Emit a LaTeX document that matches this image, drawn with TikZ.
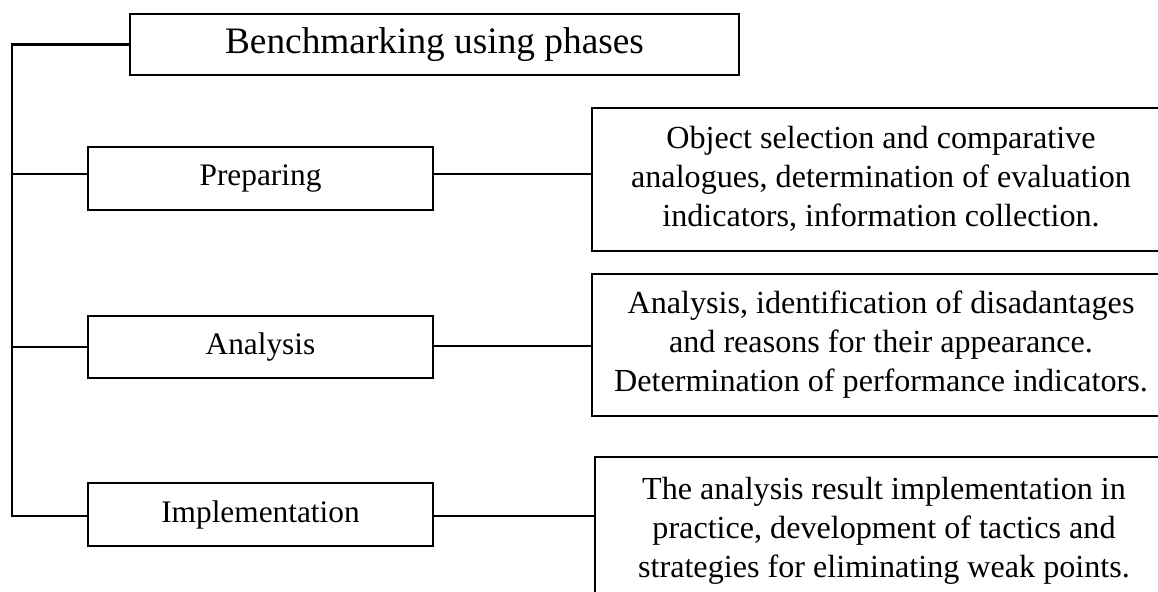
\documentclass[tikz,border=0pt]{standalone}
\usepackage{fontspec}
\setmainfont{Liberation Serif}
\begin{document}
\begin{tikzpicture}[x=0.75pt,y=-0.75pt,
  box/.style={draw,line width=1.6pt,inner sep=0pt},
  phasebox/.style={box,minimum width=258.75pt,minimum height=47pt,font=\fontsize{23.5}{28}\selectfont},
  frame/.style={box,minimum width=450pt},
  desc/.style={align=center,inner sep=0pt,font=\fontsize{24.1}{29.25}\selectfont},
  lnk/.style={line width=1.6pt}]
\useasboundingbox (0,0) rectangle (1158,592);
\clip (0,0) rectangle (1158,592);
% title
\node[box,minimum width=456.75pt,minimum height=45.75pt,font=\fontsize{28}{33}\selectfont] (title) at (434.5,44.5) {Benchmarking using phases};
% phases
\node[phasebox] (prep) at (260.5,178.5) {Preparing};
\node[phasebox,minimum height=46.5pt] (anal) at (260.5,347) {Analysis};
\node[phasebox] (impl) at (260.5,514.5) {Implementation};
% frames of the description boxes (extend past the right edge)
\node[frame,minimum height=107.25pt,anchor=north west] (f1) at (591,107) {};
\node[frame,minimum height=106.5pt,anchor=north west] (f2) at (591,273) {};
\node[frame,minimum height=120pt,anchor=north west] (f3) at (594,456) {};
% description texts
\node[desc] (t1) at (881,179) {Object selection and comparative\\analogues, determination of evaluation\\indicators, information collection.};
\node[desc] (t2) at (881,345) {Analysis, identification of disadantages\\and reasons for their appearance.\\Determination of performance indicators.};
\node[desc] (t3) at (884,531) {The analysis result implementation in\\practice, development of tactics and\\strategies for eliminating weak points.};
% trunk
\coordinate (top) at (12,44.5);
\coordinate (bot) at (12,516);
\draw[lnk] (title.west) -- (top) -- (bot) -- (bot -| impl.west);
\draw[lnk] ([yshift=3.4pt]prep.west) -- ([yshift=3.4pt]prep.west -| top);
\draw[lnk] (anal.west) -- (anal.west -| top);
% links to descriptions
\draw[lnk] ([yshift=3.4pt]prep.east) -- ([yshift=3.4pt]prep.east -| f1.west);
\draw[lnk] ([yshift=0.5pt]anal.east) -- ([yshift=0.5pt]anal.east -| f2.west);
\draw[lnk] (bot -| impl.east) -- (bot -| f3.west);
\end{tikzpicture}
\end{document}
